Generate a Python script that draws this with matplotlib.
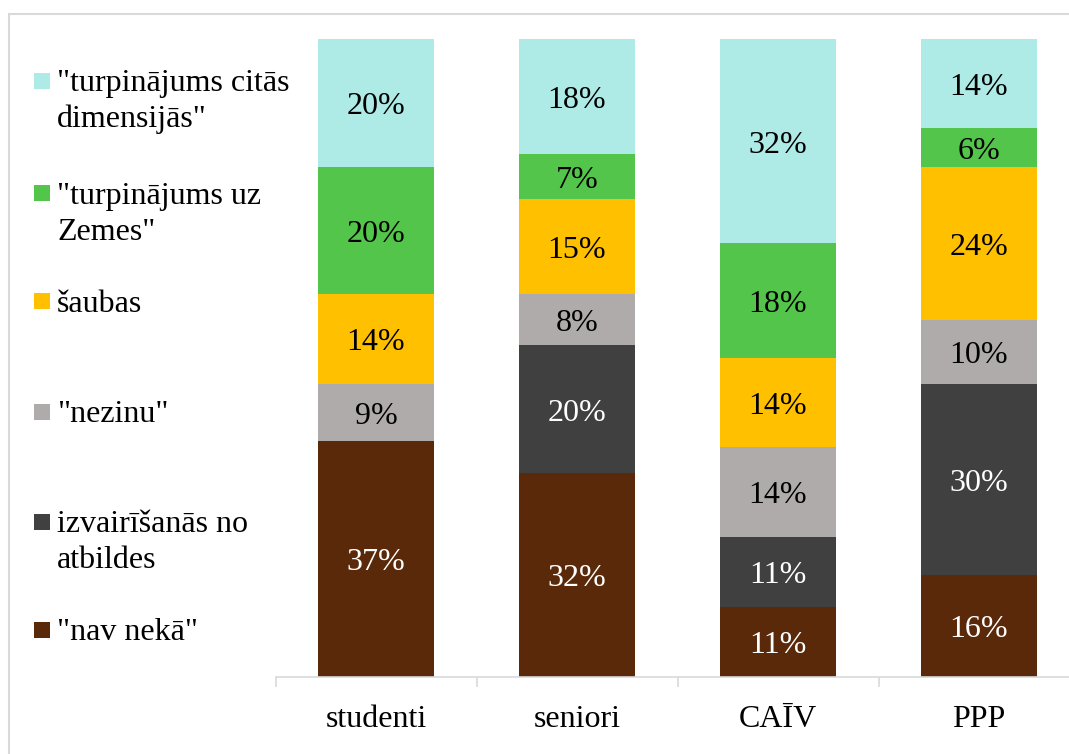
import matplotlib.pyplot as plt
import matplotlib.patches as mpatches
import matplotlib.transforms as mtransforms
import numpy as np

plt.rcParams['font.family'] = ['Liberation Serif', 'DejaVu Serif']

# groups along the x axis
groups = ['studenti', 'seniori', 'CAĪV', 'PPP']

# answer shares (%), stacked from the bottom up
nav_neka = [37, 32, 11, 16]
izvairisanas = [0, 20, 11, 30]
nezinu = [9, 8, 14, 10]
saubas = [14, 15, 14, 24]
uz_zemes = [20, 7, 18, 6]
citas_dim = [20, 18, 32, 14]

series = [
    ('"nav nekā"', nav_neka, '#5A290A', 'white'),
    ('izvairīšanās no\natbildes', izvairisanas, '#404040', 'white'),
    ('"nezinu"', nezinu, '#AFABAB', 'black'),
    ('šaubas', saubas, '#FFC000', 'black'),
    ('"turpinājums uz\nZemes"', uz_zemes, '#53C54A', 'black'),
    ('"turpinājums citās\ndimensijās"', citas_dim, '#AFEBE6', 'black'),
]

W, H = 1069, 754
fig = plt.figure(figsize=(W / 100, H / 100), dpi=100)
fsize = 23

# outer chart frame
fig.patches.append(mpatches.Rectangle((9 / W, -0.1), 1.2, (H - 14) / H + 0.1,
                                      transform=fig.transFigure, fill=False,
                                      edgecolor='#D9D9D9', linewidth=1.5))

ax = fig.add_axes([275.5 / W, 77 / H, 804 / W, 638 / H])
x = np.arange(len(groups))
bottom = np.zeros(len(groups))
label_tr = ax.transData + mtransforms.ScaledTranslation(0, -4 / 100, fig.dpi_scale_trans)
for name, vals, color, tcolor in series:
    vals = np.array(vals, dtype=float)
    ax.bar(x, vals, 0.58, bottom=bottom, color=color, linewidth=0)
    for xi, b, v in zip(x, bottom, vals):
        if v > 0:
            ax.text(xi, b + v / 2, f'{v:.0f}%', ha='center', va='center',
                    color=tcolor, fontsize=fsize, transform=label_tr)
    bottom += vals

ax.set_xlim(-0.5, len(groups) - 0.5)
ax.set_ylim(0, 100)
for s in ['top', 'right', 'left']:
    ax.spines[s].set_visible(False)
ax.spines['bottom'].set_color('#D9D9D9')
ax.spines['bottom'].set_linewidth(1.2)
ax.set_yticks([])
ax.set_xticks(x)
ax.set_xticklabels(groups, fontsize=fsize)
ax.tick_params(axis='x', which='major', length=0, pad=20)
ax.set_xticks(np.arange(-0.5, len(groups)), minor=True)
ax.tick_params(axis='x', which='minor', length=7, color='#D9D9D9', width=1.2)

# legend on the left, top entry first
marker_y = [81, 193, 301, 412, 522, 630]
for (name, vals, color, tcolor), my in zip(series[::-1], marker_y):
    fig.patches.append(mpatches.Rectangle((34 / W, 1 - (my + 8) / H), 16 / W, 16 / H,
                                          transform=fig.transFigure,
                                          facecolor=color, edgecolor='none'))
    for k, line in enumerate(name.split('\n')):
        fig.text(57 / W, 1 - (my + 10.5 + 36 * k) / H, line, fontsize=fsize,
                 va='baseline', ha='left')

fig.savefig('out.png', dpi=100)
